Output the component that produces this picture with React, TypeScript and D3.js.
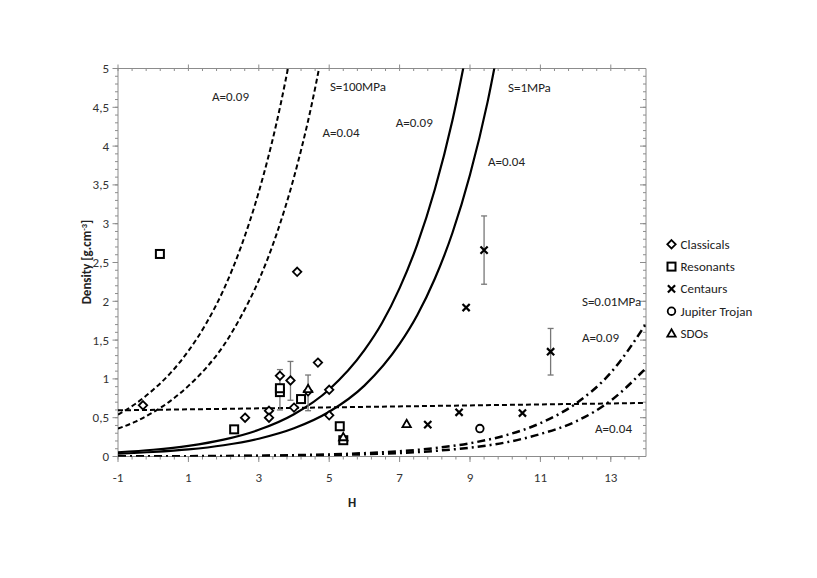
import React from "react";
import * as d3 from "d3";

// ---------- data ----------
const classicalsH = [-0.29, 2.61, 3.29, 3.29, 3.6, 3.9, 4.0, 4.09, 4.4, 4.68, 5.0, 5.0];
const classicalsD = [0.66, 0.5, 0.59, 0.5, 1.04, 0.98, 0.63, 2.38, 0.84, 1.21, 0.86, 0.53];

const resonantsH = [0.19, 2.3, 3.6, 3.6, 4.2, 5.3, 5.4];
const resonantsD = [2.61, 0.35, 0.83, 0.88, 0.74, 0.39, 0.21];

const centaursH = [7.8, 8.69, 8.89, 9.4, 10.49, 11.29];
const centaursD = [0.41, 0.57, 1.92, 2.66, 0.56, 1.35];

const trojanH = [9.28];
const trojanD = [0.36];

const sdosH = [7.2, 4.4, 5.4];
const sdosD = [0.42, 0.87, 0.25];

// error bars: H, centre, half-range
const errH = [3.6, 3.9, 4.4, 9.4, 11.29];
const errD = [0.86, 0.975, 0.82, 2.66, 1.35];
const errE = [0.26, 0.25, 0.23, 0.44, 0.3];

// model curves
const c1H = [-1, -0.5, 0, 0.5, 1, 1.5, 2, 2.5, 3, 3.5, 4];
const c1D = [0.54, 0.68, 0.86, 1.08, 1.36, 1.71, 2.15, 2.71, 3.41, 4.29, 5.4];
const c2H = [-1, -0.5, 0, 0.5, 1, 1.5, 2, 2.5, 3, 3.5, 4, 4.5, 5];
const c2D = [0.36, 0.45, 0.57, 0.72, 0.91, 1.14, 1.43, 1.81, 2.27, 2.86, 3.6, 4.53, 5.7];
const c3H = [-1, 0, 1, 2, 3, 4, 5, 6, 6.5, 7, 7.5, 8, 8.5, 9];
const c3D = [0.055, 0.087, 0.137, 0.217, 0.344, 0.545, 0.864, 1.37, 1.72, 2.17, 2.73, 3.44, 4.33, 5.45];
const c4H = [-1, 0, 1, 2, 3, 4, 5, 6, 7, 7.5, 8, 8.5, 9, 9.5, 10];
const c4D = [0.036, 0.058, 0.091, 0.145, 0.229, 0.363, 0.576, 0.913, 1.45, 1.82, 2.29, 2.88, 3.63, 4.57, 5.76];
const c56H = [-1, 0, 1, 2, 3, 4, 5, 6, 7, 8, 9, 10, 11, 12, 13, 14];
const c5D = [0.0017, 0.0027, 0.0043, 0.0068, 0.0108, 0.017, 0.027, 0.043, 0.068, 0.108, 0.171, 0.271, 0.43, 0.68, 1.08, 1.71];
const c6D = [0.0011, 0.0018, 0.0029, 0.0045, 0.0072, 0.011, 0.018, 0.029, 0.045, 0.072, 0.114, 0.18, 0.29, 0.45, 0.72, 1.14];
const flatH = [-1, 14];
const flatD = [0.595, 0.69];

const xTickValues = [-1, 1, 3, 5, 7, 9, 11, 13];
const yTickValues = [0, 0.5, 1, 1.5, 2, 2.5, 3, 3.5, 4, 4.5, 5];
const yTickLabels = ["0", "0,5", "1", "1,5", "2", "2,5", "3", "3,5", "4", "4,5", "5"];

const legendLabels = ["Classicals", "Resonants", "Centaurs", "Jupiter Trojan", "SDOs"];

const curveLabels = [
  { t: "A=0.09", h: 1.67, d: 4.58 },
  { t: "S=100MPa", h: 5.02, d: 4.71 },
  { t: "A=0.04", h: 4.81, d: 4.12 },
  { t: "A=0.09", h: 6.89, d: 4.25 },
  { t: "S=1MPa", h: 10.08, d: 4.7 },
  { t: "A=0.04", h: 9.51, d: 3.74 },
  { t: "S=0.01MPa", h: 12.18, d: 1.94 },
  { t: "A=0.09", h: 12.18, d: 1.48 },
  { t: "A=0.04", h: 12.55, d: 0.3 },
];

// ---------- layout ----------
const W = 817;
const H = 578;
const FONT = "Carlito, Calibri, Lato, 'Liberation Sans', sans-serif";
const FS = 13;
const x = d3.scaleLinear().domain([-1, 14]).range([118, 646]);
const y = d3.scaleLinear().domain([0, 5]).range([456.5, 68.5]);

const zip = (a: number[], b: number[]) => a.map((v, i) => [v, b[i]] as [number, number]);

const line = d3
  .line<[number, number]>()
  .x((d) => x(d[0]))
  .y((d) => y(d[1]))
  .curve(d3.curveMonotoneX);

function Marker({ type, cx, cy }: { type: string; cx: number; cy: number }) {
  const sw = 1.8;
  if (type === "diamond") {
    const r = 4.2;
    return (
      <path
        d={`M${cx},${cy - r}L${cx + r},${cy}L${cx},${cy + r}L${cx - r},${cy}Z`}
        fill="white"
        stroke="black"
        strokeWidth={sw}
      />
    );
  }
  if (type === "square") {
    const r = 4;
    return <rect x={cx - r} y={cy - r} width={2 * r} height={2 * r} fill="white" stroke="black" strokeWidth={2} />;
  }
  if (type === "cross") {
    const r = 3.6;
    return (
      <path
        d={`M${cx - r},${cy - r}L${cx + r},${cy + r}M${cx - r},${cy + r}L${cx + r},${cy - r}`}
        stroke="black"
        strokeWidth={2.2}
      />
    );
  }
  if (type === "circle") {
    return <circle cx={cx} cy={cy} r={3.8} fill="white" stroke="black" strokeWidth={sw} />;
  }
  const r = 4.2;
  return (
    <path
      d={`M${cx},${cy - r}L${cx + r},${cy + r * 0.75}L${cx - r},${cy + r * 0.75}Z`}
      fill="white"
      stroke="black"
      strokeWidth={sw}
    />
  );
}

export default function App() {
  const xMinor = d3.range(-1, 14.001, 0.4);
  const yMinor = d3.range(0, 5.001, 0.1);
  const axisCol = "#8c8c8c";

  const series = [
    { type: "diamond", h: classicalsH, d: classicalsD },
    { type: "square", h: resonantsH, d: resonantsD },
    { type: "cross", h: centaursH, d: centaursD },
    { type: "circle", h: trojanH, d: trojanD },
    { type: "triangle", h: sdosH, d: sdosD },
  ];

  return (
    <svg
      width={W}
      height={H}
      style={{ position: "absolute", left: 0, top: 0, background: "white" }}
      fontFamily={FONT}
    >
      <defs>
        <clipPath id="plotclip">
          <rect x={118} y={68.5} width={528} height={388} />
        </clipPath>
      </defs>
      <rect width={W} height={H} fill="white" />

      {/* axes frame */}
      <g stroke={axisCol} strokeWidth={1}>
        <line x1={118} y1={68.5} x2={118} y2={456.5} />
        <line x1={118} y1={456.5} x2={646} y2={456.5} />
        <line x1={118} y1={68.5} x2={646} y2={68.5} />
        <line x1={646} y1={68.5} x2={646} y2={456.5} />
        {xMinor.map((v, i) => (
          <line key={"bm" + i} x1={x(v)} x2={x(v)} y1={456.5} y2={459.5} />
        ))}
        {xTickValues.map((v) => (
          <line key={"bM" + v} x1={x(v)} x2={x(v)} y1={456.5} y2={462} />
        ))}
        {xMinor.map((v, i) => (
          <line key={"tm" + i} x1={x(v)} x2={x(v)} y1={68.5} y2={71} />
        ))}
        {xTickValues.map((v) => (
          <line key={"tM" + v} x1={x(v)} x2={x(v)} y1={68.5} y2={64.5} />
        ))}
        {yMinor.map((v, i) => (
          <line key={"lm" + i} x1={115} x2={118} y1={y(v)} y2={y(v)} />
        ))}
        {yTickValues.map((v) => (
          <line key={"lM" + v} x1={112.5} x2={118} y1={y(v)} y2={y(v)} />
        ))}
        {yMinor.map((v, i) => (
          <line key={"rm" + i} x1={643} x2={646} y1={y(v)} y2={y(v)} />
        ))}
        {yTickValues.map((v) => (
          <line key={"rM" + v} x1={640} x2={646} y1={y(v)} y2={y(v)} />
        ))}
      </g>

      {/* tick labels */}
      <g fill="#333" fontSize={FS}>
        {xTickValues.map((v) => (
          <text key={"xl" + v} x={x(v)} y={482} textAnchor="middle">
            {String(v)}
          </text>
        ))}
        {yTickValues.map((v, i) => (
          <text key={"yl" + v} x={109} y={y(v) + 4.5} textAnchor="end">
            {yTickLabels[i]}
          </text>
        ))}
      </g>

      {/* axis titles */}
      <text x={352} y={507} textAnchor="middle" fontWeight="bold" fontSize={FS} fill="#222">
        H
      </text>
      <text
        transform="translate(91,262) rotate(-90)"
        textAnchor="middle"
        fontWeight="bold"
        fontSize={FS}
        fill="#222"
      >
        Density [g.cm
        <tspan dy={-4} fontSize={8.5}>-3</tspan>
        <tspan dy={4}>]</tspan>
      </text>

      {/* curves */}
      <g clipPath="url(#plotclip)" fill="none" stroke="black">
        <path d={line(zip(flatH, flatD)) || ""} strokeWidth={2} strokeDasharray="5,3" />
        <path d={line(zip(c1H, c1D)) || ""} strokeWidth={2} strokeDasharray="5,3" />
        <path d={line(zip(c2H, c2D)) || ""} strokeWidth={2} strokeDasharray="5,3" />
        <path d={line(zip(c3H, c3D)) || ""} strokeWidth={2.2} />
        <path d={line(zip(c4H, c4D)) || ""} strokeWidth={2.2} />
        <path d={line(zip(c56H, c5D)) || ""} strokeWidth={2.5} strokeDasharray="8,4,2,4" />
        <path d={line(zip(c56H, c6D)) || ""} strokeWidth={2.5} strokeDasharray="8,4,2,4" />
      </g>

      {/* curve labels */}
      <g fontSize={FS} fill="#222">
        {curveLabels.map((l, i) => (
          <text key={"cl" + i} x={x(l.h)} y={y(l.d)}>
            {l.t}
          </text>
        ))}
      </g>

      {/* error bars */}
      <g stroke="#777" strokeWidth={1.3}>
        {errH.map((h, i) => {
          const cx = x(h);
          const y1 = y(errD[i] + errE[i]);
          const y2 = y(errD[i] - errE[i]);
          return (
            <g key={"e" + i}>
              <line x1={cx} x2={cx} y1={y1} y2={y2} />
              <line x1={cx - 3} x2={cx + 3} y1={y1} y2={y1} />
              <line x1={cx - 3} x2={cx + 3} y1={y2} y2={y2} />
            </g>
          );
        })}
      </g>

      {/* markers */}
      {series.map((s) =>
        s.h.map((h, i) => <Marker key={s.type + i} type={s.type} cx={x(h)} cy={y(s.d[i])} />)
      )}

      {/* legend */}
      {series.map((s, i) => (
        <g key={"lg" + i}>
          <Marker type={s.type} cx={671.5} cy={244.3 + i * 22.3} />
          <text x={680.5} y={244.3 + i * 22.3 + 4.5} fontSize={FS} fill="#222">
            {legendLabels[i]}
          </text>
        </g>
      ))}
    </svg>
  );
}
